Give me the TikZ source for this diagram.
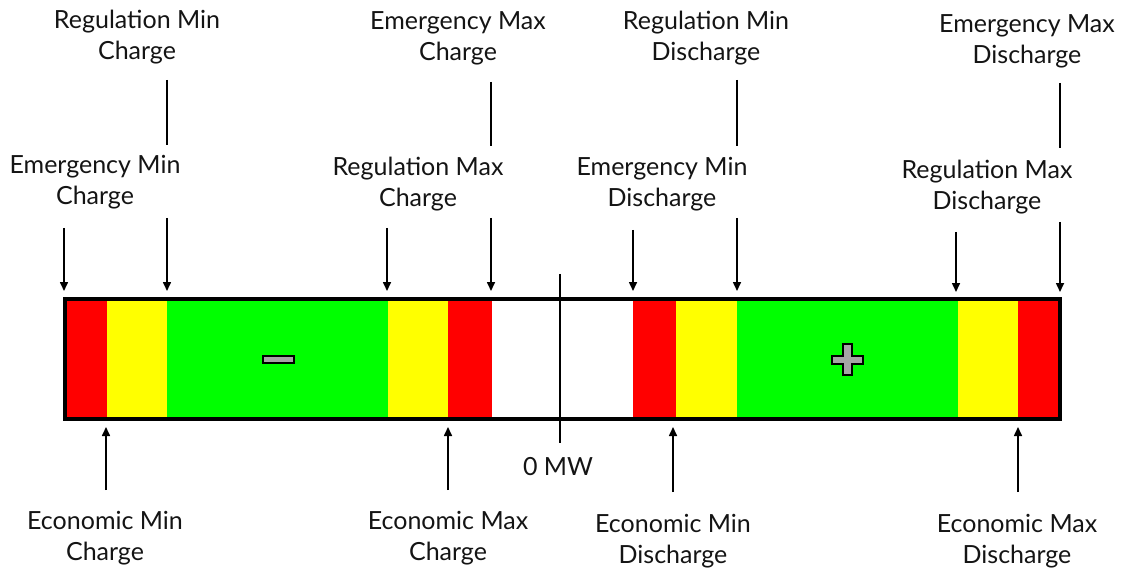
\documentclass[tikz,border=0pt]{standalone}
\usepackage{fontspec}
\setmainfont{Lato}
\usetikzlibrary{arrows.meta}
\definecolor{bred}{RGB}{255,0,0}
\definecolor{byel}{RGB}{255,255,0}
\definecolor{bgrn}{RGB}{0,255,0}
\definecolor{sgray}{RGB}{165,165,165}
\begin{document}
\begin{tikzpicture}[x=1pt,y=-1pt,
 lbl/.style={align=center, font=\fontsize{25}{31}\selectfont, inner sep=0pt, text=black!92},
 arr/.style={line width=1.6pt, -{Triangle[length=9pt,width=8pt]}},
 seg/.style={line width=1.6pt}]
\useasboundingbox (0,0) rectangle (1121,569);
% colour bands
\fill[bred] (66,300) rectangle (107,418);
\fill[byel] (107,300) rectangle (167,418);
\fill[bgrn] (167,300) rectangle (388,418);
\fill[byel] (388,300) rectangle (448,418);
\fill[bred] (448,300) rectangle (492,418);
\fill[white] (492,300) rectangle (633,418);
\fill[bred] (633,300) rectangle (676,418);
\fill[byel] (676,300) rectangle (737,418);
\fill[bgrn] (737,300) rectangle (958,418);
\fill[byel] (958,300) rectangle (1018,418);
\fill[bred] (1018,300) rectangle (1059,418);
% border
\node[draw, line width=4.5pt, minimum width=995pt, minimum height=120pt, inner sep=0pt] (bar) at (562.5,358.8) {};
% minus and plus
\draw[fill=sgray, line width=1.3pt] (263,356) rectangle (294,363);
\draw[fill=sgray, line width=1.3pt] (843,344) -- (852,344) -- (852,356) -- (863,356) -- (863,364) -- (852,364) -- (852,375) -- (843,375) -- (843,364) -- (832,364) -- (832,356) -- (843,356) -- cycle;
% zero line
\coordinate (z1) at (560,274);
\coordinate (z2) at (560,443);
\draw[seg] (z1) -- (z2);
\node[lbl] (zero) at (558,467) {0 MW};
% labels top
\node[lbl] (rmc) at (137,37) {Regulation Min\\Charge};
\node[lbl] (emc) at (95,182) {Emergency Min\\Charge};
\node[lbl] (exc) at (458,38) {Emergency Max\\Charge};
\node[lbl] (rxc) at (418,184) {Regulation Max\\Charge};
\node[lbl] (rmd) at (706,38) {Regulation Min\\Discharge};
\node[lbl] (emd) at (662,184) {Emergency Min\\Discharge};
\node[lbl] (exd) at (1027,41) {Emergency Max\\Discharge};
\node[lbl] (rxd) at (987,187) {Regulation Max\\Discharge};
% labels bottom
\node[lbl] (ecmc) at (105,538) {Economic Min\\Charge};
\node[lbl] (ecxc) at (448,538) {Economic Max\\Charge};
\node[lbl] (ecmd) at (673,541) {Economic Min\\Discharge};
\node[lbl] (ecxd) at (1017,541) {Economic Max\\Discharge};
% upper segments
\coordinate (a1) at (167,80); \coordinate (a2) at (167,145);
\coordinate (b1) at (491,82); \coordinate (b2) at (491,146);
\coordinate (c1) at (737,80); \coordinate (c2) at (737,146);
\coordinate (d1) at (1060,83); \coordinate (d2) at (1060,148);
\draw[seg] (a1) -- (a2);
\draw[seg] (b1) -- (b2);
\draw[seg] (c1) -- (c2);
\draw[seg] (d1) -- (d2);
% top arrows
\coordinate (t1) at (64,228);   \coordinate (h1) at (64,291);
\coordinate (t2) at (167,218);  \coordinate (h2) at (167,291);
\coordinate (t3) at (387,228);  \coordinate (h3) at (387,291);
\coordinate (t4) at (491,218);  \coordinate (h4) at (491,291);
\coordinate (t5) at (633,230);  \coordinate (h5) at (633,291);
\coordinate (t6) at (737,218);  \coordinate (h6) at (737,291);
\coordinate (t7) at (956,232);  \coordinate (h7) at (956,292);
\coordinate (t8) at (1060,222); \coordinate (h8) at (1060,292);
\foreach \i in {1,...,8} {\draw[arr] (t\i) -- (h\i);}
% bottom arrows
\coordinate (u1) at (106,490); \coordinate (g1) at (106,427);
\coordinate (u2) at (448,490); \coordinate (g2) at (448,427);
\coordinate (u3) at (673,492); \coordinate (g3) at (673,427);
\coordinate (u4) at (1018,492); \coordinate (g4) at (1018,427);
\foreach \i in {1,...,4} {\draw[arr] (u\i) -- (g\i);}
\end{tikzpicture}
\end{document}
